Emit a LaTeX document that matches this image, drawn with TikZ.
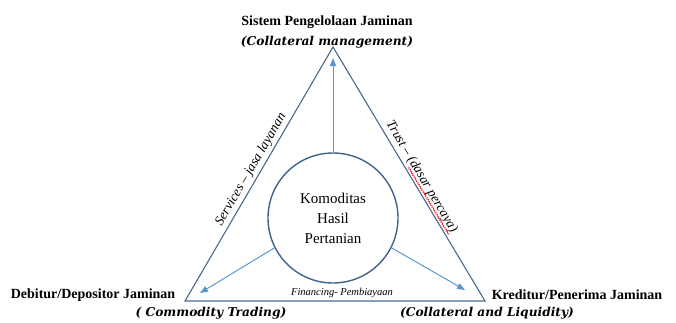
\documentclass[tikz,border=0pt]{standalone}
\usepackage{fontspec}
\setmainfont{Liberation Serif}
\newfontfamily\ital{DejaVu Serif}
\usetikzlibrary{arrows.meta,decorations.pathmorphing,calc}
\definecolor{triblue}{RGB}{72,104,145}
\definecolor{circblue}{RGB}{65,98,140}
\definecolor{arrblue}{RGB}{91,150,208}
\begin{document}
\begin{tikzpicture}[x=1pt,y=1pt,
  corner/.style={font=\fontsize{14}{16}\selectfont\bfseries, inner sep=0pt},
  subtitle/.style={font=\fontsize{12.2}{14}\selectfont\ital\bfseries\itshape, inner sep=0pt},
  edgelabel/.style={font=\fontsize{13.5}{15}\selectfont\itshape, inner sep=0pt},
  flow/.style={arrblue, line width=1pt, -{Triangle[length=8pt,width=6pt]}},
  tri/.style={triblue, line width=1.1pt, line join=miter}]
\useasboundingbox (0,0) rectangle (676,322);
\coordinate (A) at (333,275);
\coordinate (BL) at (185,21);
\coordinate (BR) at (485,21);
\draw[tri] (A) -- (BL) -- (BR) -- cycle;
\node[circle, draw=circblue, line width=1.4pt, minimum size=130pt, inner sep=0pt,
  align=center, font=\fontsize{15}{20}\selectfont] (c) at (333,104)
  {Komoditas\\Hasil\\Pertanian};
\coordinate (tA) at (333,264);
\coordinate (tL) at (200,29);
\coordinate (tR) at (465,32);
\draw[flow] (c.90) -- (tA);
\draw[flow] (c.207) -- (tL);
\draw[flow] (c.-27) -- (tR);
\node[corner] (top) at (327,300) {Sistem Pengelolaan Jaminan};
\node[subtitle] (topsub) at (327,280) {(Collateral management)};
\node[corner] (left) at (93,27) {Debitur/Depositor Jaminan};
\node[subtitle] (leftsub) at (211,9) {( Commodity Trading)};
\node[corner] (right) at (577,27) {Kreditur/Penerima Jaminan};
\node[subtitle] (rightsub) at (487,9) {(Collateral and Liquidity)};
\node[font=\fontsize{10.5}{12}\selectfont\itshape, inner sep=0pt] (fin) at (342,29) {Financing- Pembiayaan};
\path (BL) -- (A) node[pos=0.5, sloped, above=3pt, edgelabel] (serv) {Services -- jasa layanan};
\path (A) -- (BR) node[pos=0.53, sloped, above=3pt, edgelabel] (trust) {Trust -- (dasar percaya)};
\draw[red, line width=0.5pt, decorate, decoration={snake, amplitude=0.7pt, segment length=2.5pt}]
  ($(trust.south west)!0.38!(trust.south east)$) -- (trust.south east);
\end{tikzpicture}
\end{document}
